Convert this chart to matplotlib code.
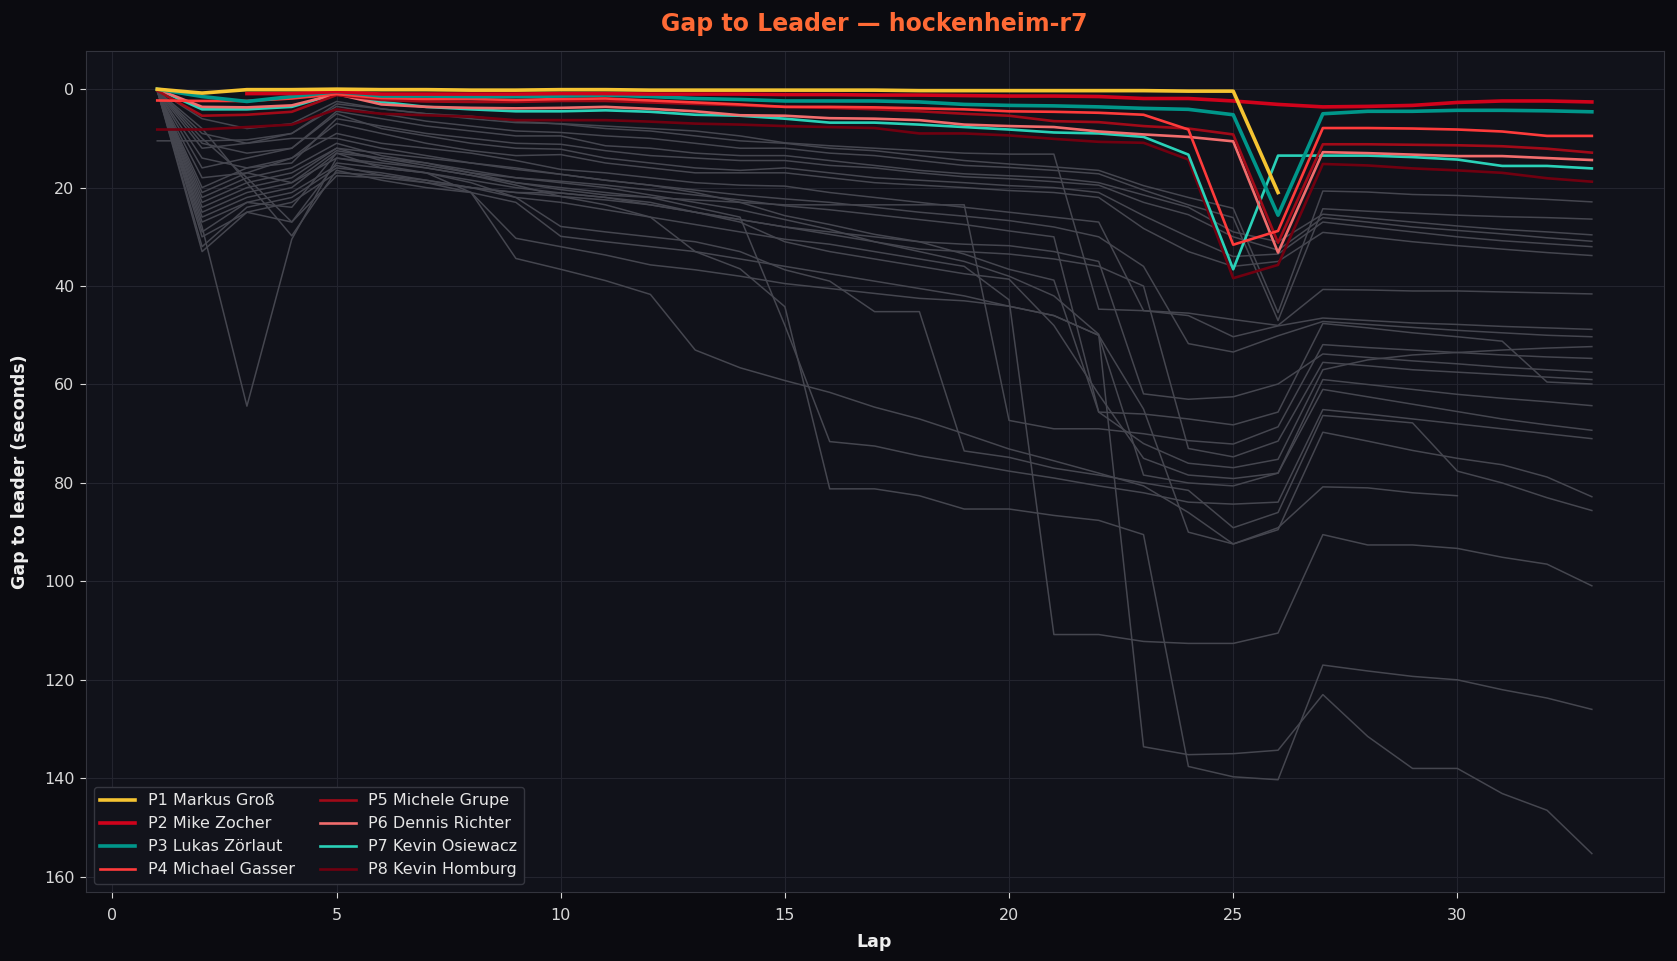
import numpy as np
import matplotlib
matplotlib.use("Agg")
import matplotlib.pyplot as plt

laps = list(range(1, 34))

# highlighted drivers (gap to leader, seconds), lap 1..33, nan = no data
p1_gross = [0.0, 0.8, 0.1, 0.1, 0.0, 0.1, 0.1, 0.2, 0.2, 0.1, 0.1, 0.2, 0.2, 0.2, 0.2, 0.2, 0.2,
            0.3, 0.3, 0.3, 0.3, 0.3, 0.3, 0.4, 0.4, 21.0]
p2_zocher = [np.nan, np.nan, 0.9, 0.9, 0.5, 1.0, 1.0, 1.0, 1.0, 0.9, 0.9, 1.0, 1.0, 1.0, 1.1, 1.1, 1.2,
             1.2, 1.3, 1.4, 1.4, 1.5, 1.9, 1.9, 2.4, 3.1, 3.6, 3.5, 3.3, 2.7, 2.4, 2.4, 2.6]
p3_zoerlaut = [0.0, 1.5, 2.5, 1.5, 0.5, 1.4, 1.4, 1.5, 1.5, 1.4, 1.2, 1.5, 1.9, 2.1, 2.4, 2.4, 2.4,
               2.6, 3.1, 3.3, 3.4, 3.6, 3.9, 4.1, 5.2, 25.6, 5.0, 4.5, 4.5, 4.3, 4.3, 4.4, 4.6]
p4_gasser = [2.3, 2.4, 2.4, 1.9, 1.0, 1.8, 2.0, 2.0, 2.2, 2.0, 1.9, 2.3, 2.7, 3.1, 3.6, 3.6, 3.7,
             3.9, 4.1, 4.5, 4.6, 4.8, 5.2, 8.2, 31.6, 28.8, 7.9, 7.9, 8.0, 8.2, 8.6, 9.5, 9.5]
p5_grupe = [0.3, 5.4, 5.2, 4.6, 1.2, 2.2, 2.5, 2.6, 2.6, 2.4, 2.4, 2.7, 3.0, 3.3, 3.6, 3.8, 4.1,
            4.5, 5.0, 5.4, 6.5, 6.7, 7.5, 8.0, 9.2, 31.2, 11.2, 11.2, 11.3, 11.4, 11.6, 12.1, 12.9]
p6_richter = [0.0, 3.6, 3.7, 3.3, 1.0, 3.1, 3.6, 3.8, 3.9, 3.8, 3.6, 4.0, 4.5, 5.3, 5.4, 5.9, 6.0,
              6.3, 7.2, 7.5, 7.7, 8.6, 9.2, 9.7, 10.6, 33.2, 12.8, 13.0, 13.3, 13.6, 13.6, 14.0, 14.4]
p7_osiewacz = [0.0, 4.1, 4.1, 3.6, 0.9, 2.6, 3.6, 4.1, 4.5, 4.5, 4.3, 4.6, 5.2, 5.4, 6.0, 6.8, 6.8,
               7.2, 7.7, 8.2, 8.8, 9.0, 9.7, 13.3, 36.6, 13.5, 13.5, 13.5, 13.8, 14.3, 15.6, 15.6, 16.1]
p8_homburg = [8.2, 8.2, 7.7, 7.2, 4.1, 5.0, 5.3, 5.6, 6.3, 6.3, 6.3, 6.6, 7.0, 7.2, 7.5, 7.7, 7.9,
              9.0, 9.0, 9.4, 10.1, 10.7, 10.9, 14.3, 38.4, 35.7, 15.2, 15.5, 16.1, 16.5, 17.0, 18.1, 18.8]

highlight_names = ["P1 Markus Groß", "P2 Mike Zocher", "P3 Lukas Zörlaut", "P4 Michael Gasser",
                   "P5 Michele Grupe", "P6 Dennis Richter", "P7 Kevin Osiewacz", "P8 Kevin Homburg"]
highlight_data = [p1_gross, p2_zocher, p3_zoerlaut, p4_gasser, p5_grupe, p6_richter, p7_osiewacz, p8_homburg]
highlight_colors = ["#f5c432", "#d0021b", "#00968a", "#ff3b3b", "#a00a18", "#f26d6d", "#2ad1b8", "#700010"]

# rest of the field
field = [
    [0.2, 6.0, 8.0, 7.0, 2.5, 4.0, 5.0, 5.5, 6.5, 7.1, 8.0, 8.5, 9.5, 10.5, 11.0, 12.0, 12.5, 13.5, 14.5, 15.2,
     15.8, 16.5, 19.6, 22.0, 24.2, 45.4, 20.7, 20.9, 21.4, 21.6, 22.0, 22.4, 22.9],
    [0.3, 9.0, 11.0, 9.0, 3.5, 5.0, 6.5, 7.5, 8.5, 8.8, 9.5, 10.0, 11.0, 12.0, 12.0, 13.0, 13.5, 14.5, 15.5, 15.9,
     16.5, 17.2, 20.5, 23.5, 26.1, 47.0, 24.3, 24.8, 25.2, 25.6, 25.9, 26.1, 26.4],
    [0.2, 11.0, 13.0, 12.0, 4.5, 6.0, 7.5, 8.5, 9.5, 9.5, 11.5, 12.0, 13.0, 13.5, 13.5, 14.5, 15.5, 16.5, 17.2, 17.6,
     18.0, 19.0, 21.5, 24.0, 29.0, 31.0, 25.4, 26.2, 27.0, 27.8, 28.5, 29.0, 29.6],
    [0.4, 14.0, 16.0, 15.0, 6.0, 7.5, 9.0, 10.0, 11.0, 11.2, 12.5, 13.5, 14.0, 14.5, 14.5, 15.5, 16.0, 17.0, 17.8, 18.2,
     18.8, 19.5, 23.0, 25.5, 30.0, 32.7, 26.1, 27.0, 28.0, 28.7, 29.4, 30.2, 30.9],
    [0.3, 16.0, 14.0, 12.0, 5.0, 8.0, 9.5, 11.0, 12.0, 12.2, 14.0, 15.0, 16.0, 16.5, 16.0, 17.0, 18.0, 18.5, 19.0, 19.6,
     20.0, 21.0, 25.7, 30.0, 34.0, 33.5, 27.0, 28.0, 29.0, 30.0, 30.8, 31.4, 32.0],
    [0.5, 18.0, 17.0, 14.0, 7.0, 9.0, 11.0, 12.5, 13.5, 13.3, 15.0, 16.0, 17.0, 17.0, 17.0, 18.0, 19.0, 19.5, 20.0, 20.6,
     21.0, 22.0, 28.3, 33.0, 36.0, 35.0, 29.1, 30.0, 31.0, 31.8, 32.5, 33.2, 33.8],
    [10.5, 10.5, 10.3, 9.0, 3.0, 4.0, 5.0, 6.0, 6.8, 7.0, 7.5, 8.0, 8.5, 9.5, 10.9, 11.5, 12.0, 12.5, 13.0, 13.2,
     13.2, 44.7, 45.0, 45.5, 46.8, 48.0, 40.7, 40.8, 41.0, 41.0, 41.2, 41.4, 41.6],
    [0.3, 20.0, 16.0, 14.0, 9.0, 11.0, 12.0, 13.0, 14.5, 16.3, 17.0, 18.0, 19.0, 19.5, 19.7, 21.0, 22.0, 23.0, 24.0, 25.0,
     26.0, 27.0, 45.0, 46.0, 50.3, 48.1, 46.5, 47.0, 47.5, 47.8, 48.2, 48.5, 48.8],
    [0.2, 24.0, 20.0, 18.0, 12.0, 13.0, 14.0, 15.0, 16.3, 17.3, 18.5, 19.5, 20.5, 21.5, 22.3, 23.0, 24.0, 25.0, 25.8, 26.7,
     28.0, 30.0, 36.0, 51.7, 53.4, 50.1, 47.2, 47.8, 48.4, 49.0, 49.5, 50.0, 50.3],
    [0.4, 26.0, 22.0, 20.0, 13.0, 14.0, 15.5, 17.0, 18.0, 18.7, 19.5, 20.5, 21.5, 22.5, 23.7, 24.5, 25.5, 26.5, 27.5, 28.8,
     30.0, 65.6, 66.0, 67.0, 68.2, 65.6, 47.6, 48.5, 49.5, 50.3, 51.2, 59.5, 59.9],
    [0.1, 28.0, 64.4, 30.5, 14.0, 15.0, 16.0, 17.5, 19.0, 20.4, 21.5, 22.0, 22.5, 23.0, 23.5, 23.5, 23.5, 23.5, 23.5, 67.3,
     69.0, 69.0, 70.0, 71.4, 72.1, 68.6, 51.9, 52.5, 53.0, 53.5, 54.0, 54.4, 54.7],
    [0.3, 30.0, 25.0, 27.0, 15.0, 16.0, 17.0, 18.5, 20.0, 21.1, 22.0, 23.5, 25.0, 26.5, 28.0, 29.0, 30.0, 31.0, 31.5, 31.8,
     33.0, 35.0, 61.9, 63.0, 62.5, 59.9, 53.8, 54.5, 55.2, 55.8, 56.5, 57.0, 57.5],
    [0.2, 32.0, 24.0, 22.0, 16.0, 17.0, 18.5, 20.0, 21.0, 21.8, 22.5, 23.5, 25.0, 26.5, 28.0, 29.5, 31.0, 32.5, 33.0, 33.5,
     34.5, 36.0, 40.0, 73.0, 74.7, 71.5, 55.5, 56.2, 57.0, 57.5, 58.0, 58.5, 59.0],
    [0.4, 12.0, 11.0, 10.0, 10.0, 12.0, 13.5, 15.0, 16.0, 17.3, 18.5, 19.5, 21.0, 23.0, 25.7, 27.5, 29.5, 31.0, 33.5, 36.6,
     38.8, 65.6, 72.0, 76.0, 76.9, 75.2, 57.0, 55.0, 54.0, 53.5, 53.0, 52.6, 52.3],
    [0.2, 10.0, 18.0, 27.0, 17.6, 18.0, 19.0, 20.0, 21.0, 21.1, 22.0, 23.0, 25.0, 27.0, 31.0, 33.0, 34.5, 36.0, 37.5, 38.6,
     48.0, 62.0, 75.0, 78.4, 79.1, 78.0, 59.0, 60.0, 61.0, 62.0, 62.8, 63.5, 64.3],
    [0.3, 8.0, 19.0, 29.8, 16.5, 18.5, 20.0, 21.0, 30.3, 32.0, 33.7, 35.7, 36.7, 38.0, 39.5, 40.5, 41.5, 42.5, 43.0, 44.1,
     46.0, 50.0, 78.4, 80.0, 80.6, 78.0, 61.0, 62.5, 64.0, 65.5, 67.0, 68.2, 69.3],
    [0.2, 22.0, 18.0, 16.0, 11.0, 13.5, 15.0, 17.0, 19.0, 20.0, 21.0, 22.0, 24.0, 26.0, 48.0, 71.6, 72.5, 74.5, 76.0, 77.6,
     79.0, 80.6, 82.0, 83.9, 84.3, 83.9, 65.1, 66.0, 67.0, 68.0, 69.0, 70.0, 71.0],
    [0.1, 25.0, 21.0, 19.0, 14.0, 15.5, 17.0, 19.0, 22.0, 27.9, 29.0, 30.0, 31.0, 33.0, 36.7, 39.0, 45.2, 45.2, 73.5, 74.8,
     77.0, 78.4, 80.0, 81.5, 89.1, 86.0, 66.3, 67.0, 67.8, 77.6, 80.0, 83.0, 85.6],
    [0.3, 27.0, 23.0, 21.0, 15.5, 17.5, 19.0, 21.0, 23.0, 29.9, 31.0, 32.0, 33.0, 34.5, 36.0, 37.5, 39.0, 40.5, 42.0, 44.1,
     46.0, 50.0, 65.0, 90.0, 92.4, 89.1, 80.8, 81.0, 82.0, 82.6],
    [0.4, 29.0, 23.0, 24.0, 13.0, 16.0, 17.0, 21.0, 34.4, 36.6, 38.9, 41.7, 53.0, 56.6, 59.2, 61.6, 64.6, 67.0, 70.0, 73.1,
     75.5, 78.0, 80.6, 86.0, 92.4, 89.5, 69.7, 71.5, 73.4, 75.0, 76.3, 78.8, 82.8],
    [0.2, 33.0, 25.0, 23.0, 17.0, 17.5, 18.5, 20.0, 22.0, 23.0, 24.5, 26.0, 27.5, 29.0, 30.5, 31.5, 33.0, 34.5, 36.0, 42.8,
     110.8, 110.8, 112.2, 112.6, 112.6, 110.5, 90.5, 92.6, 92.6, 93.3, 95.1, 96.5, 100.9],
    [0.3, 21.0, 17.0, 19.0, 12.5, 14.0, 15.0, 16.5, 18.0, 19.0, 20.0, 21.5, 23.0, 24.5, 26.5, 28.5, 31.0, 33.0, 35.0, 38.0,
     42.0, 49.8, 133.6, 135.2, 135.0, 134.3, 123.0, 131.5, 138.0, 138.0, 143.1, 146.5, 155.3],
    [0.2, 23.0, 19.0, 17.0, 12.0, 14.5, 16.0, 17.5, 19.5, 21.8, 23.5, 26.0, 33.0, 36.5, 44.2, 81.2, 81.2, 82.6, 85.3, 85.3,
     86.6, 87.6, 90.5, 137.6, 139.7, 140.3, 117.0, 118.2, 119.3, 120.0, 122.0, 123.7, 126.0],
]

fig = plt.figure(figsize=(16.77, 9.61), dpi=100, facecolor="#0b0b10")
ax = fig.add_axes([0.051, 0.072, 0.941, 0.875])
ax.set_facecolor("#11121a")

for gaps in field:
    ax.plot(laps[:len(gaps)], gaps, color="#45464f", linewidth=1.1, zorder=2)

for i in range(len(highlight_data) - 1, -1, -1):
    gaps = highlight_data[i]
    lw = 2.6 if i < 3 else 1.9
    ax.plot(laps[:len(gaps)], gaps, color=highlight_colors[i], linewidth=lw,
            label=highlight_names[i], zorder=10 - i)

ax.invert_yaxis()
ax.grid(True, color="#23242e", linewidth=0.8)
ax.set_axisbelow(True)
for s in ax.spines.values():
    s.set_color("#33343d")
ax.tick_params(colors="#d8d8d8", labelsize=11.5, length=4.5)
ax.tick_params(axis="x", pad=7)

ax.set_xlabel("Lap", color="#eeeeee", fontsize=12.5, fontweight="bold", labelpad=7)
ax.set_ylabel("Gap to leader (seconds)", color="#eeeeee", fontsize=12.5, fontweight="bold", labelpad=11)
ax.set_title("Gap to Leader — hockenheim-r7", color="#ff6a35", fontsize=17,
             fontweight="bold", pad=14)

handles, labels = ax.get_legend_handles_labels()
handles = handles[::-1]
labels = labels[::-1]
leg = ax.legend(handles, labels, loc="lower left", ncol=2, fontsize=11.5,
                facecolor="#12131b", edgecolor="#35363f", framealpha=1.0,
                labelcolor="#e6e6e6", handlelength=2.2, columnspacing=1.6)

fig.savefig("out.png", dpi=100, facecolor=fig.get_facecolor())
